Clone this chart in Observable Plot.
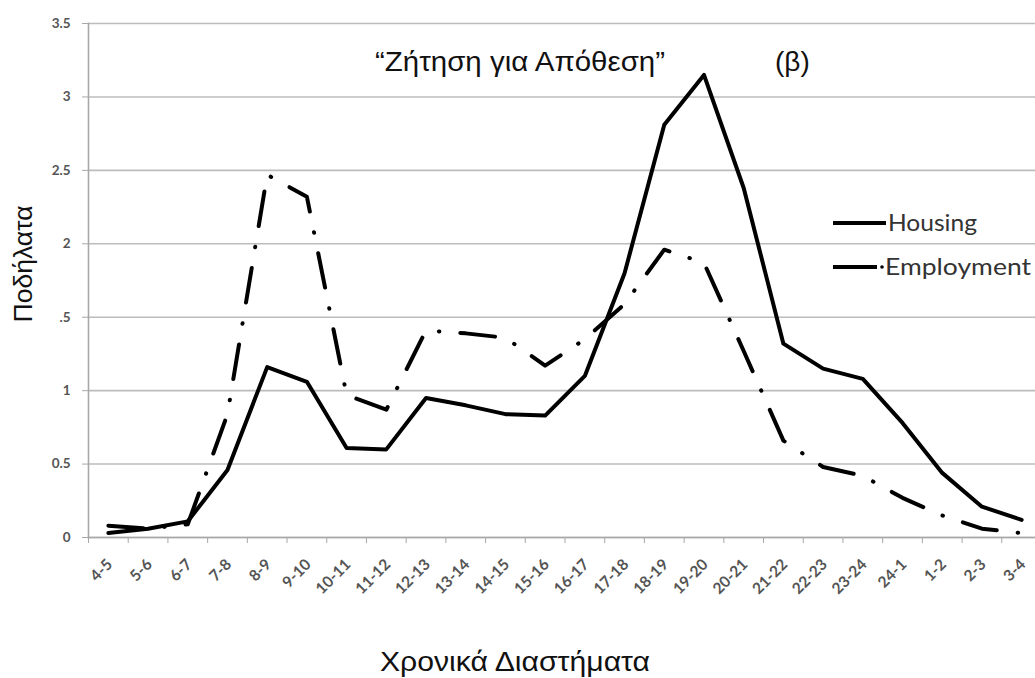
<!DOCTYPE html>
<html>
<head>
<meta charset="utf-8">
<script src="https://cdn.jsdelivr.net/npm/d3@7"></script>
<script src="https://cdn.jsdelivr.net/npm/@observablehq/plot@0.6"></script>
<style>
  html, body { margin: 0; padding: 0; background: #fff; overflow: hidden; }
  #wrap { position: relative; width: 1035px; height: 678px; }
  #wrap > svg.overlay { position: absolute; left: 0; top: 0; pointer-events: none; }
  #chart { position: absolute; left: 0; top: 0; }
</style>
</head>
<body>
<div id="wrap">
  <div id="chart"></div>
</div>
<script>
// ---- data ----
const categories = ["4-5","5-6","6-7","7-8","8-9","9-10","10-11","11-12","12-13","13-14","14-15","15-16",
                    "16-17","17-18","18-19","19-20","20-21","21-22","22-23","23-24","24-1","1-2","2-3","3-4"];
const housing    = [0.03,0.06,0.11,0.46,1.16,1.06,0.61,0.60,0.95,0.90,0.84,0.83,
                    1.10,1.80,2.81,3.15,2.38,1.32,1.15,1.08,0.78,0.44,0.21,0.12];
const employment = [0.08,0.06,0.09,0.84,2.47,2.32,0.97,0.87,1.41,1.39,1.36,1.17,
                    1.35,1.59,1.96,1.87,1.27,0.66,0.48,0.42,0.27,0.15,0.06,0.03];
const yTicks      = [0, 0.5, 1, 1.5, 2, 2.5, 3, 3.5];
const yTickLabels = ["0", "0.5", "1", ".5", "2", "2.5", "3", "3.5"];
const seriesNames = ["Housing", "Employment"];
const titleText = "“Ζήτηση για Απόθεση”";
const panelText = "(β)";
const yTitle = "Ποδήλατα";
const xTitle = "Χρονικά Διαστήματα";

const rows = categories.map((c, i) => ({i, cat: c, housing: housing[i], employment: employment[i]}));
const bounds = d3.range(categories.length + 1).map(i => i - 0.5);

const W = 1035, H = 678;
const chart = Plot.plot({
  width: W,
  height: H,
  marginLeft: 88,
  marginRight: -6,
  marginTop: 23,
  marginBottom: H - 537,
  style: {background: "white", overflow: "hidden"},
  x: {type: "linear", domain: [-0.5, categories.length - 0.5]},
  y: {domain: [0, 3.5]},
  marks: [
    Plot.gridY(yTicks, {stroke: "#bcbcbc", strokeOpacity: 1, strokeWidth: 1.6}),
    Plot.frame({anchor: "left", stroke: "#a8a8a8", strokeWidth: 1.6}),
    Plot.frame({anchor: "bottom", stroke: "#a8a8a8", strokeWidth: 1.6}),
    Plot.axisY(yTicks, {
      tickFormat: (d) => yTickLabels[yTicks.indexOf(d)],
      tickSize: 6, tickPadding: 12, stroke: "#a8a8a8",
      fill: "#555", fontSize: 13.5, fontWeight: "bold", fontFamily: "Lato", label: null
    }),
    Plot.axisX(bounds, {tickFormat: () => "", tickSize: 6, stroke: "#a8a8a8", label: null}),
    Plot.text(rows, {
      x: "i", text: "cat", frameAnchor: "bottom", rotate: -45, textAnchor: "end",
      dx: 5, dy: 28, fill: "#555", fontSize: 15.5, fontWeight: "bold", fontFamily: "Lato"
    }),
    Plot.line(rows, {x: "i", y: "housing", stroke: "black", strokeWidth: 4,
      strokeLinejoin: "round", strokeLinecap: "round"}),
    Plot.line(rows, {x: "i", y: "employment", stroke: "black", strokeWidth: 4,
      strokeLinejoin: "round", strokeLinecap: "round", strokeDasharray: "35,21,0.5,21"})
  ]
});
document.getElementById("chart").appendChild(chart);

// ---- overlay: titles and legend (text as real text) ----
const ns = "http://www.w3.org/2000/svg";
const ov = document.createElementNS(ns, "svg");
ov.setAttribute("class", "overlay");
ov.setAttribute("width", W);
ov.setAttribute("height", H);
function txt(s, attrs) {
  const t = document.createElementNS(ns, "text");
  for (const k in attrs) t.setAttribute(k, attrs[k]);
  t.textContent = s;
  ov.appendChild(t);
  return t;
}
function ln(attrs) {
  const l = document.createElementNS(ns, "line");
  for (const k in attrs) l.setAttribute(k, attrs[k]);
  ov.appendChild(l);
}
const sans = "'Liberation Sans', Arial, sans-serif";
txt(titleText, {x: 375, y: 71, "font-family": sans, "font-size": 28, fill: "#111",
  textLength: 290, lengthAdjust: "spacingAndGlyphs"});
txt(panelText, {x: 775, y: 71, "font-family": sans, "font-size": 28, fill: "#111"});
txt(yTitle, {transform: "translate(32,264) rotate(-90)", "text-anchor": "middle",
  "font-family": sans, "font-size": 25, fill: "#111", textLength: 117, lengthAdjust: "spacingAndGlyphs"});
txt(xTitle, {x: 380, y: 671, "font-family": sans, "font-size": 28, fill: "#111",
  textLength: 270, lengthAdjust: "spacingAndGlyphs"});

// legend
ln({x1: 833, x2: 886, y1: 223, y2: 223, stroke: "black", "stroke-width": 4});
txt(seriesNames[0], {x: 888, y: 231, "font-family": "Lato", "font-size": 24, fill: "#333",
  textLength: 89, lengthAdjust: "spacingAndGlyphs"});
ln({x1: 833, x2: 877, y1: 267, y2: 267, stroke: "black", "stroke-width": 4});
const dot = document.createElementNS(ns, "circle");
dot.setAttribute("cx", 882); dot.setAttribute("cy", 267); dot.setAttribute("r", 1.8);
ov.appendChild(dot);
txt(seriesNames[1], {x: 885, y: 275, "font-family": "Lato", "font-size": 24, fill: "#333",
  textLength: 146, lengthAdjust: "spacingAndGlyphs"});

document.getElementById("wrap").appendChild(ov);
</script>
</body>
</html>
